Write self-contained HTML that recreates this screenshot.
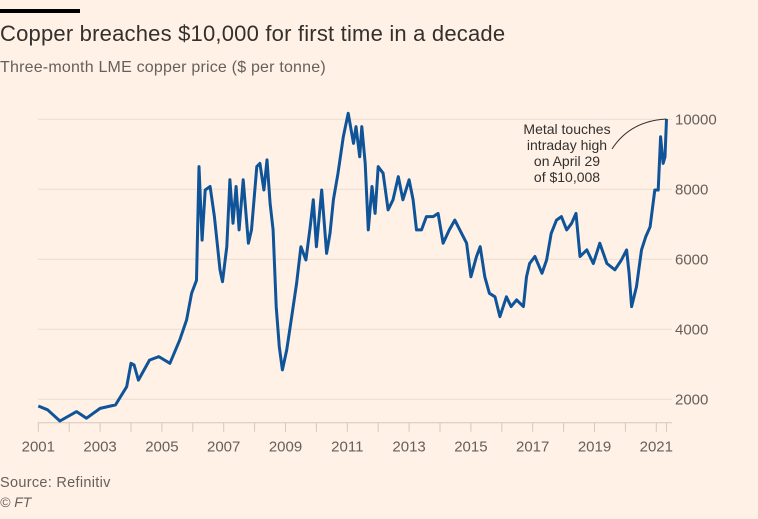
<!DOCTYPE html>
<html><head><meta charset="utf-8"><style>
html,body{margin:0;padding:0;background:#fff1e5;}
body{width:758px;height:519px;position:relative;overflow:hidden;font-family:"Liberation Sans",sans-serif;}
.t{position:absolute;white-space:nowrap;}
</style></head><body>
<div style="position:absolute;left:0;top:9px;width:80px;height:4px;background:#000"></div>
<div class="t" style="left:0;top:21px;font-size:22px;color:#33302e;letter-spacing:0.2px">Copper breaches $10,000 for first time in a decade</div>
<div class="t" style="left:0;top:59px;font-size:16px;color:#66605c;letter-spacing:0.2px">Three-month LME copper price ($ per tonne)</div>
<svg id="chart" width="758" height="519" style="position:absolute;left:0;top:0"></svg>
<div class="t" style="left:0;top:475px;font-size:14.5px;color:#66605c;letter-spacing:0.3px">Source: Refinitiv</div>
<div class="t" style="left:0;top:494px;font-size:14px;color:#66605c;font-style:italic">© FT</div>
<script>
const years=[2001,2001.3,2001.7,2002.24,2002.56,2003.0,2003.5,2003.86,2004.0,2004.1,2004.24,2004.6,2004.9,2005.26,2005.58,2005.8,2005.96,2006.12,2006.2,2006.3,2006.4,2006.56,2006.7,2006.88,2006.96,2007.1,2007.2,2007.3,2007.4,2007.5,2007.63,2007.8,2007.9,2008.07,2008.17,2008.3,2008.4,2008.5,2008.6,2008.7,2008.8,2008.9,2009.04,2009.2,2009.36,2009.5,2009.66,2009.8,2009.9,2010.0,2010.17,2010.33,2010.44,2010.55,2010.7,2010.87,2011.03,2011.2,2011.28,2011.4,2011.47,2011.58,2011.68,2011.8,2011.9,2012.0,2012.16,2012.32,2012.48,2012.65,2012.8,2013.0,2013.13,2013.24,2013.4,2013.56,2013.78,2013.94,2014.1,2014.3,2014.48,2014.7,2014.86,2015.0,2015.18,2015.3,2015.45,2015.6,2015.78,2015.94,2016.15,2016.3,2016.48,2016.7,2016.8,2016.9,2017.07,2017.3,2017.45,2017.6,2017.77,2017.93,2018.1,2018.26,2018.4,2018.53,2018.75,2018.96,2019.17,2019.4,2019.66,2019.87,2020.04,2020.12,2020.2,2020.36,2020.52,2020.66,2020.8,2020.95,2021.06,2021.14,2021.22,2021.28,2021.33];
const prices=[1810,1700,1380,1650,1460,1740,1840,2360,3030,2980,2550,3120,3220,3030,3700,4270,5030,5400,8650,6550,7980,8080,7220,5700,5360,6360,8270,7030,8080,6840,8270,6460,6840,8650,8740,7980,8840,7600,6840,4650,3500,2840,3410,4360,5310,6360,5980,6930,7700,6360,7980,6170,6740,7700,8460,9500,10170,9310,9790,8930,9790,8740,6840,8080,7310,8650,8460,7410,7700,8360,7700,8270,7700,6840,6840,7220,7220,7310,6460,6840,7120,6740,6460,5500,6080,6360,5500,5030,4930,4360,4930,4650,4840,4650,5500,5880,6080,5600,5980,6740,7120,7220,6840,7030,7310,6080,6270,5880,6460,5880,5700,5980,6270,5600,4650,5220,6270,6650,6930,7980,7980,9500,8740,8930,10008];
const yTicks=[2000,4000,6000,8000,10000];
const xLabels=[2001,2003,2005,2007,2009,2011,2013,2015,2017,2019,2021];
const NS="http://www.w3.org/2000/svg";
const svg=document.getElementById('chart');
const X=y=>38.3+(y-2001)*30.9;
const Y=v=>119.3+(10000-v)*0.035;
function mk(t,a){const e=document.createElementNS(NS,t);for(const k in a)e.setAttribute(k,a[k]);svg.appendChild(e);return e;}
yTicks.forEach(v=>{
  const l=mk('line',{x1:38,x2:672,y1:Y(v),y2:Y(v),stroke:'#ebdcd0','stroke-width':1});
  
  
  const t=mk('text',{x:675,y:Y(v)+5,'font-size':15,fill:'#66605c','font-family':'Liberation Sans, sans-serif'});
  t.textContent=v;
  
  
});
const base=422.7;
const ax=mk('line',{x1:38,x2:672,y1:base,y2:base,stroke:'#d6c7bb','stroke-width':1});


for(let y=2001;y<=2021;y++){
  const tk=mk('line',{x1:X(y),x2:X(y),y1:base,y2:base+9,stroke:'#d6c7bb','stroke-width':1});
  
  
}
const lt=mk('line',{x1:X(2021.33),x2:X(2021.33),y1:base,y2:base+9,stroke:'#d6c7bb','stroke-width':1});


xLabels.forEach(y=>{
  const t=mk('text',{x:X(y),y:base+29,'font-size':15,fill:'#66605c','text-anchor':'middle','font-family':'Liberation Sans, sans-serif'});
  t.textContent=y;
  
  
});
const d=years.map((y,i)=>(i?'L':'M')+X(y).toFixed(1)+','+Y(prices[i]).toFixed(1)).join('');
const p=mk('path',{d:d,fill:'none',stroke:'#0f5499','stroke-width':3,'stroke-linejoin':'round'});


const ex=X(2021.33),ey=Y(10008);
const c=mk('path',{d:`M612,149 Q630,121 ${ex},${ey}`,fill:'none',stroke:'#33302e','stroke-width':1});


['Metal touches','intraday high','on April 29','of $10,008'].forEach((s,i)=>{
  const t=mk('text',{x:567,y:134+i*16,'font-size':14,fill:'#33302e','text-anchor':'middle','font-family':'Liberation Sans, sans-serif'});
  t.textContent=s;
  
  
});
</script>
</body></html>
